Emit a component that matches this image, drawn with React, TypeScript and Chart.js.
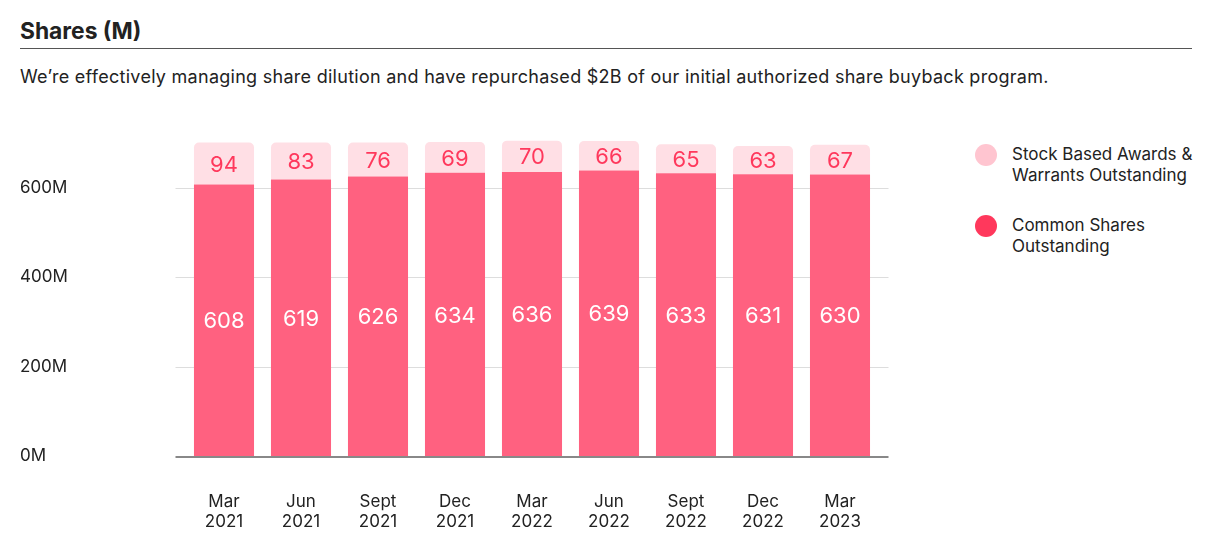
import React, { useEffect, useRef } from "react";
import { Chart, registerables } from "chart.js";

Chart.register(...registerables);

const categories: string[][] = [
  ["Mar", "2021"], ["Jun", "2021"], ["Sept", "2021"], ["Dec", "2021"],
  ["Mar", "2022"], ["Jun", "2022"], ["Sept", "2022"], ["Dec", "2022"], ["Mar", "2023"],
];
const commonShares: number[] = [608, 619, 626, 634, 636, 639, 633, 631, 630];
const stockAwards: number[] = [94, 83, 76, 69, 70, 66, 65, 63, 67];
const yTicks: number[] = [0, 200, 400, 600];

const FONT = "Inter, 'Noto Sans', sans-serif";
const DARK_BAR = "#FF6180";
const LIGHT_BAR = "#FFDFE5";
const DARK_LEG = "#FF385C";
const LIGHT_LEG = "#FFC5D0";

const legendItems = [
  { label: ["Stock Based Awards &", "Warrants Outstanding"], color: LIGHT_LEG },
  { label: ["Common Shares", "Outstanding"], color: DARK_LEG },
];

export default function App() {
  const ref = useRef<HTMLCanvasElement>(null);
  useEffect(() => {
    if (!ref.current) return;
    const gridPlugin = {
      id: "customGrid",
      beforeDatasetsDraw(chart: any) {
        const { ctx, chartArea, scales } = chart;
        ctx.save();
        ctx.strokeStyle = "#DDDDDD";
        ctx.lineWidth = 1;
        yTicks.forEach((t) => {
          if (t === 0) return;
          const y = Math.round(scales.y.getPixelForValue(t)) + 0.5;
          ctx.beginPath();
          ctx.moveTo(chartArea.left - 10, y);
          ctx.lineTo(chartArea.right + 10, y);
          ctx.stroke();
        });
        ctx.restore();
      },
      afterDatasetsDraw(chart: any) {
        const { ctx, chartArea, scales } = chart;
        ctx.save();
        ctx.strokeStyle = "#888888";
        ctx.lineWidth = 2;
        const y = scales.y.getPixelForValue(0) + 1;
        ctx.beginPath();
        ctx.moveTo(chartArea.left - 10, y);
        ctx.lineTo(chartArea.right + 10, y);
        ctx.stroke();
        ctx.font = `22px ${FONT}`;
        ctx.textAlign = "center";
        ctx.textBaseline = "middle";
        chart.data.datasets.forEach((ds: any, di: number) => {
          const meta = chart.getDatasetMeta(di);
          meta.data.forEach((bar: any, i: number) => {
            const p = bar.getProps(["x", "y", "base"], true);
            const cy = (p.y + p.base) / 2;
            ctx.fillStyle = di === 0 ? "#FFFFFF" : "#FF385C";
            ctx.fillText(String(ds.data[i]), p.x, cy + 1.5);
          });
        });
        ctx.restore();
      },
    };
    const chart = new Chart(ref.current, {
      type: "bar",
      data: {
        labels: categories,
        datasets: [
          {
            label: "Common Shares Outstanding",
            data: commonShares,
            backgroundColor: DARK_BAR,
            borderRadius: 0,
            barPercentage: 0.78,
            categoryPercentage: 1,
          },
          {
            label: "Stock Based Awards & Warrants Outstanding",
            data: stockAwards,
            backgroundColor: LIGHT_BAR,
            borderRadius: { topLeft: 5, topRight: 5, bottomLeft: 0, bottomRight: 0 },
            borderSkipped: false,
            barPercentage: 0.78,
            categoryPercentage: 1,
          },
        ],
      },
      options: {
        animation: false,
        responsive: false,
        maintainAspectRatio: false,
        layout: { padding: { left: 12, right: 61.5, top: 34.4, bottom: 0 } },
        plugins: { legend: { display: false }, tooltip: { enabled: false } },
        scales: {
          x: {
            stacked: true,
            grid: { display: false },
            border: { display: false },
            ticks: { color: "#222222", font: { family: FONT, size: 17, lineHeight: 1.15 }, padding: 28.5, maxRotation: 0 },
            afterFit(scale: any) { scale.height = 79; },
          },
          y: {
            stacked: true,
            min: 0,
            max: 720,
            grid: { display: false },
            border: { display: false },
            afterBuildTicks(scale: any) { scale.ticks = yTicks.map((v) => ({ value: v })); },
            ticks: {
              color: "#222222",
              font: { family: FONT, size: 17 },
              crossAlign: "far",
              callback: (v: any) => `${v}M`,
            },
            afterFit(scale: any) { scale.width = 165.5; },
          },
        },
      },
      plugins: [gridPlugin],
    });
    return () => chart.destroy();
  }, []);

  return (
    <div style={{ position: "relative", height: 527, overflow: "hidden", fontFamily: FONT, color: "#222" }}>
      <div style={{ position: "absolute", left: 12, top: 9, fontSize: 22.8, fontWeight: 700, lineHeight: "28px" }}>Shares (M)</div>
      <div style={{ position: "absolute", left: 12, top: 40, width: 1172, height: 1, background: "#555" }} />
      <div style={{ position: "absolute", left: 12, top: 57, fontSize: 18, letterSpacing: 0.27, lineHeight: "24px", whiteSpace: "nowrap" }}>
        We’re effectively managing share dilution and have repurchased $2B of our initial authorized share buyback program.
      </div>
      <canvas ref={ref} width={932} height={435} style={{ position: "absolute", left: 0, top: 92, width: 932, height: 435 }} />
      {legendItems.map((it, i) => (
        <div key={i} style={{ position: "absolute", left: 967, top: 136 + i * 71, display: "flex", alignItems: "flex-start" }}>
          <div style={{ width: 22, height: 22, borderRadius: 11, background: it.color, marginTop: 0, marginRight: 15 }} />
          <div style={{ fontSize: 17, lineHeight: "21px" }}>
            {it.label.map((l, j) => <div key={j}>{l}</div>)}
          </div>
        </div>
      ))}
    </div>
  );
}
